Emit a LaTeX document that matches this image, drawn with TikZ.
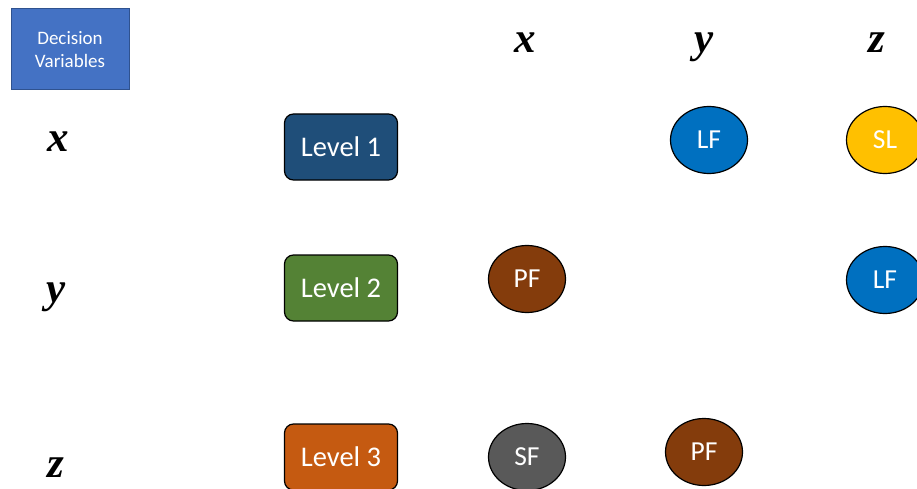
\documentclass[tikz,border=0pt]{standalone}
\usepackage{fontspec}
\setmainfont{Carlito}
\newfontfamily\varfont{Liberation Serif}[BoldItalicFont={* Bold Italic}]
\usetikzlibrary{shapes.geometric}
\definecolor{dvblue}{HTML}{4472C4}
\definecolor{dvborder}{HTML}{2F528F}
\definecolor{lvlone}{HTML}{1F4E79}
\definecolor{lvltwo}{HTML}{548235}
\definecolor{lvlthree}{HTML}{C55A11}
\definecolor{lfblue}{HTML}{0070C0}
\definecolor{slgold}{HTML}{FFC000}
\definecolor{pfbrown}{HTML}{843C0C}
\definecolor{sfgrey}{HTML}{595959}
\tikzset{
  varlabel/.style={anchor=base, inner sep=0pt, font={\varfont\bfseries\itshape\fontsize{43}{43}\selectfont}},
  levelbox/.style={draw=black, line width=1.2pt, rounded corners=9pt, minimum width=113pt,
    minimum height=66pt, inner sep=0pt, text=white, font={\fontsize{28.5}{28.5}\selectfont}},
  role/.style={ellipse, draw=black, line width=1.2pt, minimum width=77pt, minimum height=67pt,
    inner sep=0pt, text=white, font={\fontsize{27.5}{27.5}\selectfont}},
}
\begin{document}
\begin{tikzpicture}[x=1pt, y=-1pt]
  \useasboundingbox (0,0) rectangle (917,489);
  \clip (0,0) rectangle (917,489);
  % legend box
  \node (dv) [draw=dvborder, line width=1pt, fill=dvblue, minimum width=118pt, minimum height=81pt,
    inner sep=0pt, align=center, text=white, font={\fontsize{19}{23}\selectfont}]
    at (70,49.5) {Decision\\Variables};
  % column headers
  \node (cx) [varlabel] at (525,53) {x};
  \node (cy) [varlabel] at (704,53) {y};
  \node (cz) [varlabel] at (877,53) {z};
  % row headers
  \node (rx) [varlabel] at (58,152) {x};
  \node (ry) [varlabel] at (56,302) {y};
  \node (rz) [varlabel] at (56,477) {z};
  % levels
  \node (l1) [levelbox, fill=lvlone]   at (341,147) {Level 1};
  \node (l2) [levelbox, fill=lvltwo]   at (341,288) {Level 2};
  \node (l3) [levelbox, fill=lvlthree] at (341,457) {Level 3};
  % roles
  \node (lf1) [role, fill=lfblue]  at (709,140) {LF};
  \node (sl)  [role, fill=slgold]  at (885,140) {SL};
  \node (pf1) [role, fill=pfbrown] at (527,279) {PF};
  \node (lf2) [role, fill=lfblue]  at (885,280) {LF};
  \node (sf)  [role, fill=sfgrey]  at (527,457) {SF};
  \node (pf2) [role, fill=pfbrown] at (704,452) {PF};
\end{tikzpicture}
\end{document}
